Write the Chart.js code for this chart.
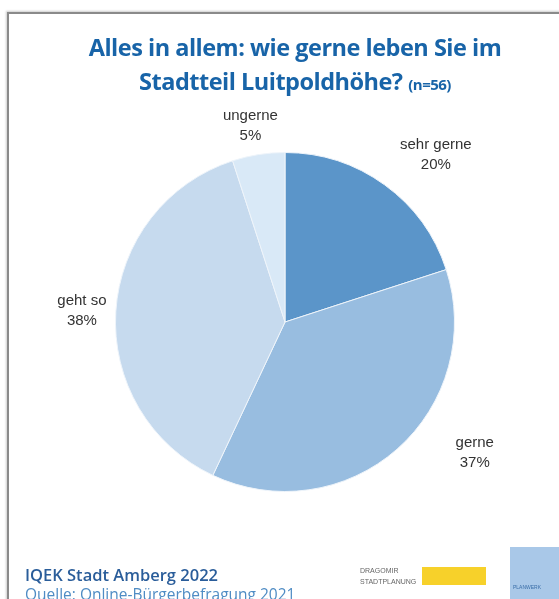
<!DOCTYPE html>
<html>
<head>
<meta charset="utf-8">
<script src="https://cdn.jsdelivr.net/npm/chart.js@4"></script>
<style>
  body { margin: 0; background: #fff; }
  #wrap { position: relative; width: 559px; height: 599px; overflow: hidden; }
  #frame { position: absolute; left: 7px; top: 12px; width: 560px; height: 600px; border-left: 2px solid #8a8a8a; border-top: 2px solid #8a8a8a; box-shadow: -1px -1px 2px #ccc; }
  #title { position: absolute; left: 0; top: 30px; width: 590px; text-align: center; font-family: "Open Sans", sans-serif; font-weight: 700; font-size: 23.5px; line-height: 34px; color: #1864a8; letter-spacing: -0.5px; }
  #title small { font-size: 15px; }
  #foot1 { position: absolute; left: 25px; top: 563px; font-family: "Open Sans", sans-serif; font-weight: 600; font-size: 16.5px; color: #2a5d9a; }
  #foot2 { position: absolute; left: 25px; top: 583px; font-family: "Open Sans", sans-serif; font-size: 15.5px; color: #4f8cc4; }
  #logo1 { position: absolute; left: 360px; top: 565px; font-family: "Liberation Sans", sans-serif; font-size: 7px; line-height: 11px; color: #666; }
  #yellow { position: absolute; left: 422px; top: 567px; width: 64px; height: 18px; background: #f7d12a; }
  #logo2 { position: absolute; left: 510px; top: 547px; width: 52px; height: 56px; background: #a9c8e8; }
  #logo2 span { position: absolute; left: 3px; top: 37px; font-family: "Liberation Sans", sans-serif; font-size: 5px; color: #3a6ea8; }
  canvas { position: absolute; left: 0; top: 0; }
</style>
</head>
<body>
<div id="wrap">
  <div id="frame"></div>
  <canvas id="myChart" width="559" height="599"></canvas>
  <div id="title">Alles in allem: wie gerne leben Sie im<br>Stadtteil Luitpoldhöhe? <small>(n=56)</small></div>
  <div id="foot1">IQEK Stadt Amberg 2022</div>
  <div id="foot2">Quelle: Online-Bürgerbefragung 2021</div>
  <div id="logo1">DRAGOMIR<br>STADTPLANUNG</div>
  <div id="yellow"></div>
  <div id="logo2"><span>PLANWERK</span></div>
</div>
<script>
const categories = ['sehr gerne', 'gerne', 'geht so', 'ungerne'];
const shares = [20, 37, 38, 5];
const colors = ['#5b95c9', '#98bde0', '#c6daee', '#d9e9f7'];

// nudges for the outside labels (angle shift in degrees, distance factor)
const labelShift = [6, -14, -0.5, -1];
const labelDist = [1.33, 1.36, 1.2, 1.175];

const outsideLabels = {
  id: 'outsideLabels',
  afterDatasetsDraw(chart) {
    const c = chart.ctx;
    const meta = chart.getDatasetMeta(0);
    c.save();
    c.font = '15px "Liberation Sans", Arial, sans-serif';
    c.fillStyle = '#333';
    c.textAlign = 'center';
    c.textBaseline = 'middle';
    meta.data.forEach((arc, i) => {
      const p = arc.getProps(['x', 'y', 'startAngle', 'endAngle', 'outerRadius'], true);
      const mid = (p.startAngle + p.endAngle) / 2 + labelShift[i] * Math.PI / 180;
      const r = p.outerRadius * labelDist[i];
      const x = p.x + Math.cos(mid) * r;
      const y = p.y + Math.sin(mid) * r;
      c.fillText(categories[i], x, y - 10);
      c.fillText(shares[i] + '%', x, y + 10);
    });
    c.restore();
  }
};

const ctx = document.getElementById('myChart');

new Chart(ctx, {
  type: 'pie',
  data: {
    labels: categories,
    datasets: [{
      data: shares,
      backgroundColor: colors,
      borderColor: '#eef4fa',
      borderWidth: 1
    }]
  },
  options: {
    responsive: false,
    animation: false,
    layout: { padding: { top: 152, bottom: 107, left: 115, right: 104 } },
    plugins: {
      legend: { display: false },
      tooltip: { enabled: false }
    }
  },
  plugins: [outsideLabels]
});
</script>
</body>
</html>
